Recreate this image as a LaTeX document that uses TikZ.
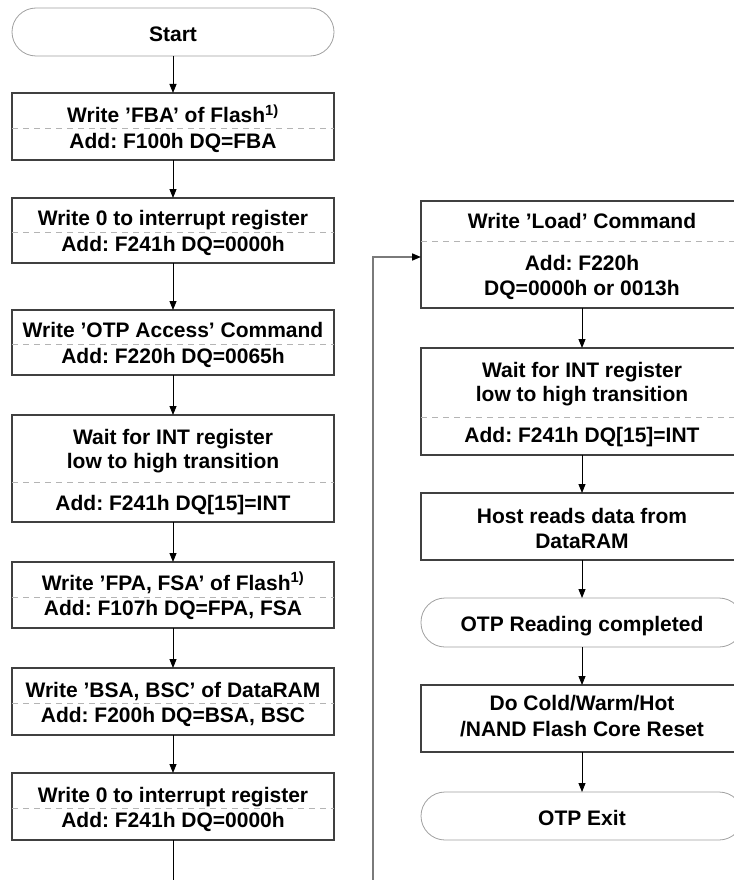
\documentclass[tikz,border=0pt]{standalone}
\usepackage{fontspec}
\setmainfont{Liberation Sans}
\usetikzlibrary{arrows.meta}
\definecolor{boxc}{HTML}{404040}
\definecolor{termc}{HTML}{A0A0A0}
\definecolor{sepc}{HTML}{B4B4B4}
\definecolor{loopc}{HTML}{7A7A7A}
\frenchspacing
\begin{document}
\begin{tikzpicture}[x=1pt,y=-1pt,
 box/.style={draw=boxc, line width=1.2pt, rectangle, inner sep=0pt, outer sep=0pt, minimum width=322pt},
 term/.style={draw=termc, line width=0.8pt, rectangle, rounded corners=24pt, inner sep=0pt, outer sep=0pt, minimum width=322pt},
 txt/.style={font=\frenchspacing\bfseries\fontsize{21}{24}\selectfont, inner sep=0pt, anchor=base},
 sep/.style={draw=sepc, line width=0.8pt, dash pattern=on 6pt off 5pt},
 arr/.style={draw=black, line width=0.9pt, -{Triangle[length=9pt,width=7pt]}},
 plain/.style={draw=black, line width=0.9pt},
 back/.style={draw=loopc, line width=1.6pt, -{Triangle[length=9pt,width=7pt,color=black]}}]
\useasboundingbox (0,0) rectangle (733,880);

% ---------- left column ----------
\node[term, minimum height=48pt] (st) at (173,32) {};
\node[txt] (stt) at (173,42) {Start};

\node[box, minimum height=67pt] (b1) at (173,126.5) {};
\draw[sep] (b1.west |- 0,128) -- (b1.east |- 0,128);
\node[txt] (b1a) at (173,123) {Write 'FBA' of Flash\textsuperscript{1)}};
\node[txt] (b1b) at (173,148) {Add: F100h DQ=FBA};

\node[box, minimum height=65pt] (b2) at (173,230.5) {};
\draw[sep] (b2.west |- 0,232) -- (b2.east |- 0,232);
\node[txt] (b2a) at (173,225) {Write 0 to interrupt register};
\node[txt] (b2b) at (173,251) {Add: F241h DQ=0000h};

\node[box, minimum height=65pt] (b3) at (173,342.5) {};
\draw[sep] (b3.west |- 0,344) -- (b3.east |- 0,344);
\node[txt] (b3a) at (173,337) {Write 'OTP Access' Command};
\node[txt] (b3b) at (173,363) {Add: F220h DQ=0065h};

\node[box, minimum height=107pt] (b4) at (173,468.5) {};
\draw[sep] (b4.west |- 0,482) -- (b4.east |- 0,482);
\node[txt] (b4a) at (173,444) {Wait for INT register};
\node[txt] (b4b) at (173,468) {low to high transition};
\node[txt] (b4c) at (173,510) {Add: F241h DQ[15]=INT};

\node[box, minimum height=66pt] (b5) at (173,595) {};
\draw[sep] (b5.west |- 0,597) -- (b5.east |- 0,597);
\node[txt] (b5a) at (173,590) {Write 'FPA, FSA' of Flash\textsuperscript{1)}};
\node[txt] (b5b) at (173,615) {Add: F107h DQ=FPA, FSA};

\node[box, minimum height=67pt] (b6) at (173,701.5) {};
\draw[sep] (b6.west |- 0,703) -- (b6.east |- 0,703);
\node[txt] (b6a) at (173,697) {Write 'BSA, BSC' of DataRAM};
\node[txt] (b6b) at (173,722) {Add: F200h DQ=BSA, BSC};

\node[box, minimum height=67pt] (b7) at (173,806.5) {};
\draw[sep] (b7.west |- 0,808) -- (b7.east |- 0,808);
\node[txt] (b7a) at (173,802) {Write 0 to interrupt register};
\node[txt] (b7b) at (173,827) {Add: F241h DQ=0000h};

\coordinate (lend) at (173,880);
\coordinate (rstart) at (373,880);

% ---------- right column ----------
\node[box, minimum height=107pt] (r1) at (582,254.5) {};
\draw[sep] (r1.west |- 0,241) -- (r1.east |- 0,241);
\node[txt] (r1a) at (582,228) {Write 'Load' Command};
\node[txt] (r1b) at (582,270) {Add: F220h};
\node[txt] (r1c) at (582,295) {DQ=0000h or 0013h};

\node[box, minimum height=107pt] (r2) at (582,401.5) {};
\draw[sep] (r2.west |- 0,417) -- (r2.east |- 0,417);
\node[txt] (r2a) at (582,377) {Wait for INT register};
\node[txt] (r2b) at (582,401) {low to high transition};
\node[txt] (r2c) at (582,442) {Add: F241h DQ[15]=INT};

\node[box, minimum height=67pt] (r3) at (582,526.5) {};
\node[txt] (r3a) at (582,523) {Host reads data from};
\node[txt] (r3b) at (582,548) {DataRAM};

\node[term, minimum height=49pt] (r4) at (582,622.5) {};
\node[txt] (r4a) at (582,631) {OTP Reading completed};

\node[box, minimum height=67pt] (r5) at (582,718.5) {};
\node[txt] (r5a) at (582,710) {Do Cold/Warm/Hot};
\node[txt] (r5b) at (582,736) {/NAND Flash Core Reset};

\node[term, minimum height=48pt] (r6) at (582,816) {};
\node[txt] (r6a) at (582,825) {OTP Exit};

% ---------- connectors ----------
\draw[arr] (st.south) -- (b1.north);
\draw[arr] (b1.south) -- (b2.north);
\draw[arr] (b2.south) -- (b3.north);
\draw[arr] (b3.south) -- (b4.north);
\draw[arr] (b4.south) -- (b5.north);
\draw[arr] (b5.south) -- (b6.north);
\draw[arr] (b6.south) -- (b7.north);
\draw[plain] (b7.south) -- (lend);

\draw[back] (rstart) |- (r1.west |- 0,257);
\draw[arr] (r1.south) -- (r2.north);
\draw[arr] (r2.south) -- (r3.north);
\draw[arr] (r3.south) -- (r4.north);
\draw[arr] (r4.south) -- (r5.north);
\draw[arr] (r5.south) -- (r6.north);
\end{tikzpicture}
\end{document}
